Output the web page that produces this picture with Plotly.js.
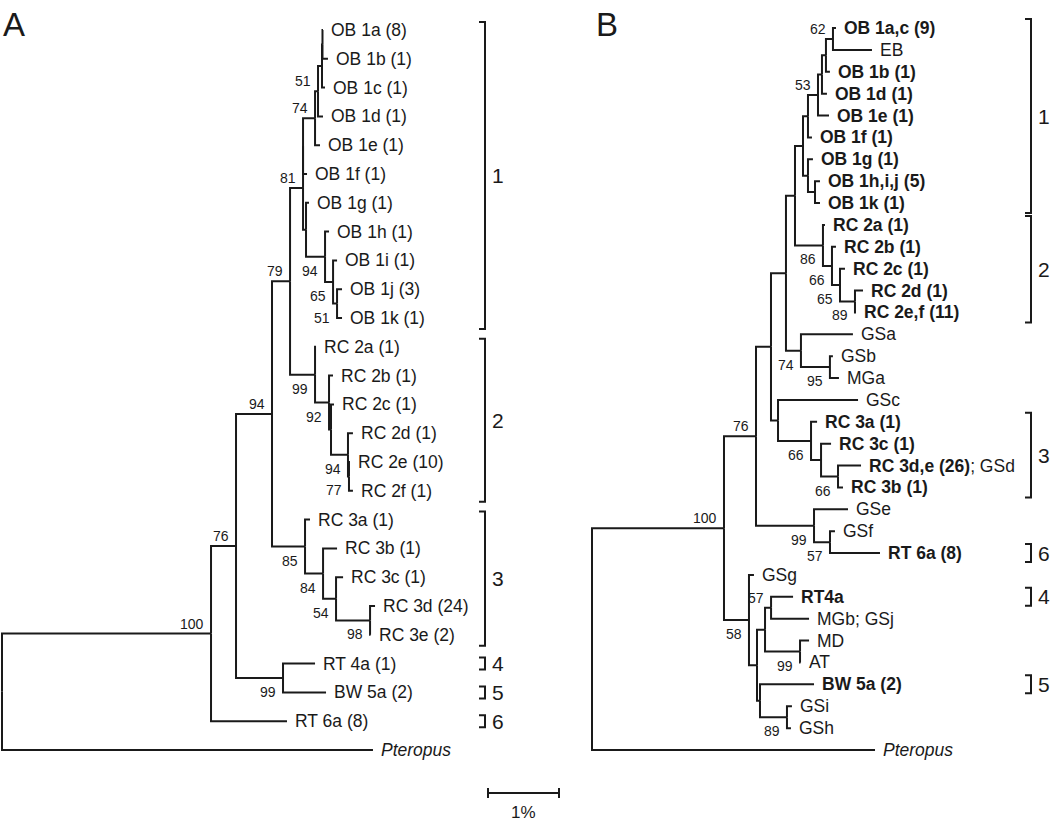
<!DOCTYPE html>
<html>
<head>
<meta charset="utf-8">
<script src="https://cdn.plot.ly/plotly-3.0.1.min.js"></script>
<style>
html,body{margin:0;padding:0;background:#ffffff;}
#chart{width:1050px;height:823px;}
</style>
</head>
<body>
<div id="chart"></div>
<script>
// ---------------- DATA ----------------
// Panel A: tip labels (top to bottom)
const tipsA = ['OB 1a (8)','OB 1b (1)','OB 1c (1)','OB 1d (1)','OB 1e (1)','OB 1f (1)','OB 1g (1)',
  'OB 1h (1)','OB 1i (1)','OB 1j (3)','OB 1k (1)','RC 2a (1)','RC 2b (1)','RC 2c (1)','RC 2d (1)',
  'RC 2e (10)','RC 2f (1)','RC 3a (1)','RC 3b (1)','RC 3c (1)','RC 3d (24)','RC 3e (2)','RT 4a (1)',
  'BW 5a (2)','RT 6a (8)','<i>Pteropus</i>'];

// Panel A tree: tN = tip index, ":" branch length in % divergence, number after ")" = bootstrap
const treeA = `
(
  (
    (
      (
        (
          (
            (
              (
                (
                  ((t0:0.007,t1:0.077):0.007,t2:0.042):0.056,
                  t3:0.070
                )51:0.042,
                t4:0.070
              )74:0.169,
              t5:0.056
            ):0.000,
            (t6:0.042,(t7:0.056,(t8:0.056,(t9:0.070,t10:0.070)51:0.056)65:0.113)94:0.268):0.042
          )81:0.183,
          (t11:0.014,(t12:0.056,(t13:0.042,(t14:0.070,(t15:0.014,t16:0.056)77:0.014)94:0.239):0.028)92:0.197)99:0.352
        )79:0.254,
        (t17:0.070,(t18:0.197,(t19:0.099,(t20:0.070,t21:0.007)98:0.479)54:0.183)84:0.254)85:0.465
      )94:0.507,
      (t22:0.451,t23:0.606)99:0.662
    )76:0.352,
    t24:1.070
  )100:2.944,
  t25:5.225
)`;

const cladeLabelsA = ['1','2','3','4','5','6'];
const cladeFirstA  = [0, 11, 17, 22, 23, 24];
const cladeLastA   = [10, 16, 21, 22, 23, 24];

// Panel B
const tipsB = ['<b>OB 1a,c (9)</b>','EB','<b>OB 1b (1)</b>','<b>OB 1d (1)</b>','<b>OB 1e (1)</b>',
  '<b>OB 1f (1)</b>','<b>OB 1g (1)</b>','<b>OB 1h,i,j (5)</b>','<b>OB 1k (1)</b>','<b>RC 2a (1)</b>',
  '<b>RC 2b (1)</b>','<b>RC 2c (1)</b>','<b>RC 2d (1)</b>','<b>RC 2e,f (11)</b>','GSa','GSb','MGa','GSc',
  '<b>RC 3a (1)</b>','<b>RC 3c (1)</b>','<b>RC 3d,e (26)</b>; GSd','<b>RC 3b (1)</b>','GSe','GSf',
  '<b>RT 6a (8)</b>','GSg','<b>RT4a</b>','MGb; GSj','MD','AT','<b>BW 5a (2)</b>','GSi','GSh','<i>Pteropus</i>'];

const treeB = `
(
  (
    (
      (
        (
          (
            (
              (
                (
                  (
                    ((t0:0.042,t1:0.549)62:0.099,t2:0.056):0.056,
                    t3:0.070
                  ):0.056,
                  t4:0.155
                )53:0.141,
                t5:0.056
              ):0.070,
              (t6:0.070,(t7:0.070,t8:0.070):0.099):0.070
            ):0.113,
            (t9:0.028,(t10:0.056,(t11:0.070,(t12:0.113,t13:0.014)89:0.211)65:0.113)66:0.127)86:0.394
          ):0.127,
          (t14:0.732,(t15:0.042,t16:0.127)95:0.408)74:0.211
        ):0.211,
        (t17:1.127,(t18:0.085,(t19:0.141,(t20:0.324,t21:0.070)66:0.239):0.141)66:0.465):0.099
      ):0.211,
      (t22:0.479,(t23:0.070,t24:0.704)57:0.225)99:0.817
    )76:0.451,
    (t25:0.070,(((t26:0.310,t27:0.535)57:0.085,(t28:0.127,t29:0.007)99:0.493):0.113,(t30:0.761,(t31:0.070,t32:0.056)89:0.380):0.042):0.113)58:0.352
  )100:1.859,
  t33:3.986
)`;

const cladeLabelsB = ['1','2','3','6','4','5'];
const cladeFirstB  = [0, 9, 18, 24, 26, 30];
const cladeLastB   = [8, 13, 21, 24, 26, 30];

const scaleBarPct = 1;
const scaleBarLabel = '1%';

// ---------------- LAYOUT / STYLE ----------------
const W = 1050, H = 823;
const PX_PER_PCT = 71;
const INK = '#1a1a1a';
const FONT = 'Liberation Sans, Arial, Helvetica, sans-serif';

const panels = [
  {tips: tipsA, tree: treeA, labels: cladeLabelsA, first: cladeFirstA, last: cladeLastA,
   xa: 'x', ya: 'y', rootPx: 2, topPx: 30, step: 28.8, dom: [0, 0.56],
   bracketPx: 485, padTop: 8, padBot: 11, singlePad: 6},
  {tips: tipsB, tree: treeB, labels: cladeLabelsB, first: cladeFirstB, last: cladeLastB,
   xa: 'x2', ya: 'y2', rootPx: 592, topPx: 28, step: 21.879, dom: [0.5, 1],
   bracketPx: 1031, padTop: 9, padBot: 10, singlePad: 9}
];

function parseTree(str) {
  const s = str.replace(/\s+/g, '');
  let i = 0;
  function readNum() { let d = ''; while (i < s.length && /[0-9.]/.test(s[i])) d += s[i++]; return d; }
  function node() {
    const n = {children: [], support: '', len: 0};
    if (s[i] === '(') {
      i++;
      n.children.push(node());
      while (s[i] === ',') { i++; n.children.push(node()); }
      i++; // ')'
      n.support = readNum();
    } else {
      i++; // 't'
      n.tip = parseInt(readNum(), 10);
    }
    if (s[i] === ':') { i++; n.len = parseFloat(readNum()); }
    return n;
  }
  return node();
}

function layoutTree(root) {
  const nodes = [];
  (function walk(n, px, parent) {
    n.x = px + n.len; n.parent = parent;
    nodes.push(n);
    n.children.forEach(c => walk(c, n.x, n));
    if (n.tip !== undefined) n.y = n.tip;
    else n.y = (n.children[0].y + n.children[n.children.length - 1].y) / 2;
  })(root, 0, null);
  return nodes;
}

const traces = [];
const annotations = [];
const layout = {
  width: W, height: H,
  margin: {l: 0, r: 0, t: 0, b: 0, pad: 0, autoexpand: false},
  paper_bgcolor: '#ffffff', plot_bgcolor: 'rgba(0,0,0,0)',
  showlegend: false,
  font: {family: FONT, color: INK},
  annotations: annotations
};

panels.forEach((P, pi) => {
  const sfx = pi === 0 ? '' : '2';
  const leftPx = P.dom[0] * W, rightPx = P.dom[1] * W;
  layout['xaxis' + sfx] = {domain: P.dom, range: [(leftPx - P.rootPx) / PX_PER_PCT, (rightPx - P.rootPx) / PX_PER_PCT],
    visible: false, fixedrange: true, anchor: 'y' + sfx};
  layout['yaxis' + sfx] = {domain: [0, 1], range: [(H - P.topPx) / P.step, -P.topPx / P.step],
    visible: false, fixedrange: true, anchor: 'x' + sfx};

  const root = parseTree(P.tree);
  const nodes = layoutTree(root);

  // branches
  const xs = [], ys = [];
  nodes.forEach(n => {
    if (n.parent) {
      xs.push(n.parent.x, n.parent.x, n.x, null);
      ys.push(n.parent.y, n.y, n.y, null);
    }
  });
  traces.push({type: 'scatter', mode: 'lines', x: xs, y: ys, xaxis: P.xa, yaxis: P.ya,
    line: {color: INK, width: 2}, hoverinfo: 'skip'});

  // tip labels
  nodes.filter(n => n.tip !== undefined).forEach(n => {
    annotations.push({xref: P.xa, yref: P.ya, x: n.x, y: n.y, text: P.tips[n.tip], showarrow: false,
      xanchor: 'left', yanchor: 'middle', xshift: 6, font: {size: 17.5, color: INK, family: FONT}});
  });

  // bootstrap values
  nodes.filter(n => n.support && n.parent).forEach(n => {
    const isFirst = n.parent.children[0] === n;
    annotations.push({xref: P.xa, yref: P.ya, x: n.x, y: n.y, text: n.support, showarrow: false,
      xanchor: 'right', yanchor: 'middle', xshift: -5, yshift: isFirst ? 10 : -14,
      font: {size: 14, color: INK, family: FONT}});
  });

  // clade brackets
  const bx = (P.bracketPx - P.rootPx) / PX_PER_PCT;
  const tick = 6 / PX_PER_PCT;
  const bxs = [], bys = [];
  P.labels.forEach((lab, k) => {
    const single = P.first[k] === P.last[k];
    const y0 = P.first[k] - (single ? P.singlePad : P.padTop) / P.step;
    const y1 = P.last[k] + (single ? P.singlePad : P.padBot) / P.step;
    bxs.push(bx - tick, bx, bx, bx - tick, null);
    bys.push(y0, y0, y1, y1, null);
    annotations.push({xref: P.xa, yref: P.ya, x: bx, y: (y0 + y1) / 2, text: lab, showarrow: false,
      xanchor: 'left', yanchor: 'middle', xshift: 5, font: {size: 21, color: INK, family: FONT}});
  });
  traces.push({type: 'scatter', mode: 'lines', x: bxs, y: bys, xaxis: P.xa, yaxis: P.ya,
    line: {color: INK, width: 2}, hoverinfo: 'skip'});
});

// scale bar (panel A axes)
const PA = panels[0];
const sbx0 = (488 - PA.rootPx) / PX_PER_PCT;
const sby = (793 - PA.topPx) / PA.step;
const sbt = 5 / PA.step;
traces.push({type: 'scatter', mode: 'lines', xaxis: 'x', yaxis: 'y',
  x: [sbx0, sbx0 + scaleBarPct, null, sbx0, sbx0, null, sbx0 + scaleBarPct, sbx0 + scaleBarPct],
  y: [sby, sby, null, sby - sbt, sby + sbt, null, sby - sbt, sby + sbt],
  line: {color: INK, width: 2}, hoverinfo: 'skip'});
annotations.push({xref: 'x', yref: 'y', x: sbx0 + scaleBarPct / 2, y: sby, text: scaleBarLabel, showarrow: false,
  xanchor: 'center', yanchor: 'middle', yshift: -19, font: {size: 17, color: INK, family: FONT}});

// panel letters
annotations.push({xref: 'paper', yref: 'paper', x: 1 / W, y: 1 - 24 / H, text: 'A', showarrow: false,
  xanchor: 'left', yanchor: 'middle', font: {size: 33, color: INK, family: FONT}});
annotations.push({xref: 'paper', yref: 'paper', x: 594 / W, y: 1 - 24 / H, text: 'B', showarrow: false,
  xanchor: 'left', yanchor: 'middle', font: {size: 33, color: INK, family: FONT}});

Plotly.newPlot('chart', traces, layout, {displayModeBar: false, staticPlot: true});
</script>
</body>
</html>
